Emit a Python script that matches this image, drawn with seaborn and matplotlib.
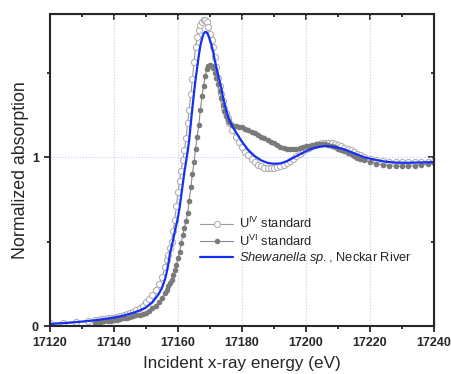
import numpy as np
import pandas as pd
import seaborn as sns
import matplotlib.pyplot as plt
from matplotlib.ticker import MultipleLocator

sns.set_style("ticks")
plt.rcParams['font.family'] = ['Liberation Sans', 'DejaVu Sans']
plt.rcParams['mathtext.fontset'] = 'custom'
plt.rcParams['mathtext.rm'] = 'Liberation Sans'
plt.rcParams['mathtext.it'] = 'Liberation Sans:italic'

# energy grid of the two standards (eV)
energy_std = [17120, 17124, 17128, 17132,
              17134, 17135, 17136, 17137, 17138, 17139, 17140, 17141, 17142, 17143, 17144,
              17145, 17146, 17147, 17148, 17149, 17150, 17151, 17152, 17153, 17154, 17155,
              17156, 17156.5, 17157, 17157.5, 17158, 17158.5, 17159, 17159.5, 17160, 17160.5,
              17161, 17161.5, 17162, 17162.5, 17163, 17163.5, 17164, 17164.5, 17165, 17165.5,
              17166, 17166.5, 17167, 17167.5, 17168, 17168.5, 17169, 17169.5, 17170, 17170.5,
              17171, 17171.5, 17172, 17172.5, 17173, 17173.5, 17174, 17174.5, 17175, 17175.5,
              17176, 17177, 17178, 17179, 17180, 17181, 17182, 17183, 17184, 17185,
              17186, 17187, 17188, 17189, 17190, 17191, 17192, 17193, 17194, 17195,
              17196, 17197, 17198, 17199, 17200, 17201, 17202, 17203, 17204, 17205,
              17206, 17207, 17208, 17209, 17210, 17211, 17212, 17213, 17214, 17215,
              17216, 17217, 17218, 17220, 17222, 17224, 17226, 17228, 17230,
              17232, 17234, 17236, 17238, 17240]

# U(IV) standard
u4_abs = [0.015, 0.02, 0.025, 0.03,
          0.034, 0.037, 0.04, 0.042, 0.045, 0.047, 0.05, 0.055, 0.06, 0.065, 0.071,
          0.078, 0.085, 0.095, 0.105, 0.12, 0.14, 0.16, 0.185, 0.215, 0.25, 0.29,
          0.35, 0.39, 0.42, 0.46, 0.50, 0.56, 0.63, 0.71, 0.79, 0.86,
          0.92, 0.98, 1.04, 1.11, 1.20, 1.28, 1.37, 1.46, 1.56, 1.65,
          1.71, 1.75, 1.78, 1.80, 1.81, 1.81, 1.80, 1.77, 1.73, 1.69,
          1.65, 1.59, 1.53, 1.47, 1.42, 1.37, 1.33, 1.29, 1.26, 1.23,
          1.20, 1.16, 1.12, 1.09, 1.06, 1.03, 1.01, 0.99, 0.97, 0.955,
          0.945, 0.937, 0.933, 0.933, 0.935, 0.94, 0.947, 0.955, 0.965, 0.975,
          0.99, 1.005, 1.02, 1.035, 1.045, 1.055, 1.065, 1.072, 1.078, 1.081,
          1.082, 1.082, 1.08, 1.075, 1.07, 1.063, 1.055, 1.048, 1.04, 1.03,
          1.02, 1.01, 1.0, 0.99, 0.982, 0.976, 0.972, 0.97, 0.97,
          0.97, 0.97, 0.972, 0.973, 0.975]

# U(VI) standard (measured from 17134 eV on)
u6_abs = [np.nan, np.nan, np.nan, np.nan,
          0.02, 0.022, 0.025, 0.027, 0.03, 0.032, 0.035, 0.038, 0.042, 0.045, 0.05,
          0.055, 0.06, 0.064, 0.068, 0.073, 0.078, 0.088, 0.105, 0.12, 0.14, 0.165,
          0.195, 0.215, 0.235, 0.255, 0.275, 0.30, 0.33, 0.36, 0.40, 0.44,
          0.49, 0.54, 0.58, 0.62, 0.67, 0.74, 0.82, 0.90, 0.97, 1.05,
          1.12, 1.19, 1.28, 1.36, 1.42, 1.48, 1.52, 1.54, 1.545, 1.54,
          1.525, 1.50, 1.47, 1.43, 1.39, 1.35, 1.31, 1.27, 1.24, 1.22,
          1.205, 1.19, 1.185, 1.18, 1.175, 1.165, 1.16, 1.15, 1.14, 1.13,
          1.12, 1.11, 1.10, 1.09, 1.08, 1.07, 1.06, 1.055, 1.05, 1.047,
          1.047, 1.05, 1.055, 1.06, 1.063, 1.068, 1.072, 1.076, 1.078, 1.077,
          1.075, 1.07, 1.065, 1.058, 1.05, 1.043, 1.035, 1.025, 1.015, 1.005,
          0.995, 0.987, 0.98, 0.97, 0.96, 0.952, 0.948, 0.945, 0.945,
          0.946, 0.948, 0.952, 0.958, 0.962]

# Shewanella sp., Neckar River sample
energy_smp = [17120, 17125, 17130, 17135, 17140, 17143, 17146, 17148, 17150, 17152,
              17153, 17154, 17155, 17156, 17156.5, 17157, 17157.5, 17158, 17158.5, 17159,
              17159.5, 17160, 17160.5, 17161, 17161.5, 17162, 17162.5, 17163, 17163.5, 17164,
              17164.5, 17165, 17165.5, 17166, 17166.5, 17167, 17167.5, 17168, 17168.5, 17169,
              17169.5, 17170, 17170.5, 17171, 17171.5, 17172, 17172.5, 17173, 17173.5, 17174,
              17174.5, 17175, 17176, 17177, 17178, 17179, 17180, 17182, 17184, 17186,
              17188, 17190, 17192, 17194, 17196, 17198, 17200, 17202, 17204, 17206,
              17208, 17210, 17212, 17214, 17216, 17218, 17220, 17222, 17224, 17226,
              17228, 17230, 17232, 17234, 17236, 17238, 17240]
smp_abs = [0.012, 0.018, 0.026, 0.036, 0.05, 0.062, 0.078, 0.092, 0.11, 0.14,
           0.165, 0.19, 0.225, 0.28, 0.32, 0.37, 0.43, 0.47, 0.51, 0.56,
           0.60, 0.645, 0.70, 0.77, 0.84, 0.91, 0.97, 1.03, 1.10, 1.20,
           1.29, 1.38, 1.46, 1.53, 1.60, 1.66, 1.70, 1.73, 1.74, 1.738,
           1.72, 1.69, 1.66, 1.62, 1.57, 1.53, 1.49, 1.45, 1.41, 1.36,
           1.32, 1.28, 1.22, 1.18, 1.15, 1.12, 1.09, 1.04, 1.005, 0.98,
           0.965, 0.96, 0.962, 0.975, 0.995, 1.015, 1.035, 1.05, 1.06, 1.065,
           1.062, 1.055, 1.045, 1.03, 1.015, 1.0, 0.99, 0.982, 0.975, 0.97,
           0.967, 0.966, 0.966, 0.967, 0.968, 0.969, 0.97]

std = pd.DataFrame({'energy': energy_std, 'u4': u4_abs, 'u6': u6_abs})
smp = pd.DataFrame({'energy': energy_smp, 'abs': smp_abs})

fig = plt.figure(figsize=(4.52, 3.74), dpi=100)
ax = fig.add_axes([0.1106, 0.1283, 0.8496, 0.8342])

sns.lineplot(data=std, x='energy', y='u4', ax=ax, color='#9a9a9a', linewidth=0.8,
             marker='o', markersize=4.4, markerfacecolor='white', markeredgecolor='#b0b0b0',
             markeredgewidth=0.8, label=r'U$^{\mathrm{IV}}$ standard')
sns.lineplot(data=std.dropna(), x='energy', y='u6', ax=ax, color='#8a8a8a', linewidth=0.8,
             marker='o', markersize=4.0, markerfacecolor='#7a7a7a', markeredgecolor='#7a7a7a',
             markeredgewidth=0, label=r'U$^{\mathrm{VI}}$ standard')
sns.lineplot(data=smp, x='energy', y='abs', ax=ax, color='#1530f5', linewidth=1.6,
             label=r'$\it{Shewanella\ sp.}$, Neckar River')

ax.set_xlim(17120, 17240)
ax.set_ylim(0, 1.846)
ax.xaxis.set_major_locator(MultipleLocator(20))
ax.xaxis.set_minor_locator(MultipleLocator(10))
ax.yaxis.set_major_locator(MultipleLocator(1))
ax.yaxis.set_minor_locator(MultipleLocator(0.5))
ax.grid(True, which='major', color='#c0cef5', linestyle=':', linewidth=0.8)
ax.set_axisbelow(True)

for s in ax.spines.values():
    s.set_linewidth(1.5)
    s.set_visible(True)
ax.tick_params(axis='both', which='both', width=1.3, direction='out')
ax.tick_params(axis='both', which='major', length=4.5, labelsize=9)
ax.tick_params(axis='both', which='minor', length=2.5)
for t in ax.get_xticklabels() + ax.get_yticklabels():
    t.set_fontweight('bold')
# top / right ticks point inward
ax2 = ax.secondary_xaxis('top')
ax2.xaxis.set_major_locator(MultipleLocator(20))
ax2.xaxis.set_minor_locator(MultipleLocator(10))
ax2.tick_params(which='both', direction='in', width=1.3, labeltop=False)
ax2.tick_params(which='major', length=4.5)
ax2.tick_params(which='minor', length=2.5)
ax3 = ax.secondary_yaxis('right')
ax3.yaxis.set_major_locator(MultipleLocator(1))
ax3.yaxis.set_minor_locator(MultipleLocator(0.5))
ax3.tick_params(which='both', direction='in', width=1.3, labelright=False)
ax3.tick_params(which='major', length=4.5)
ax3.tick_params(which='minor', length=2.5)

ax.set_xlabel('Incident x-ray energy (eV)', fontsize=12.3, labelpad=5)
ax.set_ylabel('Normalized absorption', fontsize=12.8, labelpad=2)

ax.legend(loc='upper left', bbox_to_anchor=(0.39, 0.352), frameon=False, fontsize=9.3,
          handlelength=2.6, handletextpad=0.4, labelspacing=0.15, borderpad=0,
          borderaxespad=0)

fig.savefig('out.png', dpi=100)
